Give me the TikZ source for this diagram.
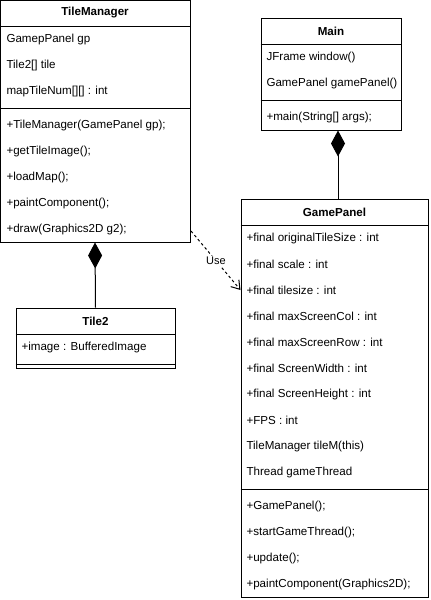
\documentclass[tikz,border=0pt]{standalone}
\usepackage{fontspec}
\setmainfont{Liberation Sans}
\usetikzlibrary{arrows.meta,fit}

\begin{document}
\begin{tikzpicture}[x=0.75pt,y=0.75pt,yscale=-1,xscale=1,line width=0.75pt,
  classbox/.style={draw,inner sep=0pt},
  member/.style={anchor=west,inner sep=0pt,font=\fontsize{8.7}{11}\selectfont},
  classname/.style={inner sep=0pt,font=\fontsize{8.7}{11}\selectfont\bfseries},
  composes/.style={{Diamond[length=19.5pt,width=10.5pt]}-},
  uses/.style={dash pattern=on 2pt off 2pt,-{Straight Barb[length=6pt,width=8pt,line width=0.75pt]}},
  uselabel/.style={fill=white,inner sep=1pt,font=\fontsize{8.25}{10}\selectfont}]
% uncomment if require:
\useasboundingbox (0,0) rectangle (431,600);

%Shape: Class TileManager
\node[classbox,fit={(0,0) (190,242)}] (tilemgr) {};
\draw (tilemgr.west |- 0,26) -- (tilemgr.east |- 0,26) ;
\draw (tilemgr.west |- 0,108) -- (tilemgr.east |- 0,108) ;

%Shape: Class Main
\node[classbox,fit={(261,18) (401,130)}] (main) {};
\draw (main.west |- 0,44) -- (main.east |- 0,44) ;
\draw (main.west |- 0,100) -- (main.east |- 0,100) ;

%Shape: Class GamePanel
\node[classbox,fit={(241,199) (428,597)}] (gamepanel) {};
\draw (gamepanel.west |- 0,225) -- (gamepanel.east |- 0,225) ;
\draw (gamepanel.west |- 0,489) -- (gamepanel.east |- 0,489) ;

%Shape: Class Tile2
\node[classbox,fit={(16,308) (175,368)}] (tile2) {};
\draw (tile2.west |- 0,334) -- (tile2.east |- 0,334) ;
\draw (tile2.west |- 0,364) -- (tile2.east |- 0,364) ;

% Text Node
\draw (95,13) node[classname] (tm-title) {TileManager};
\draw (6,39) node[member] (tm-gp) {GamepPanel gp};
\draw (6,65) node[member] (tm-tile) {Tile2[] tile};
\draw (6,91) node[member] (tm-map) {mapTileNum[][] : int};
\draw (6,125) node[member] (tm-ctor) {+TileManager(GamePanel gp);};
\draw (6,151) node[member] (tm-getimg) {+getTileImage();};
\draw (6,177) node[member] (tm-load) {+loadMap();};
\draw (6,203) node[member] (tm-paint) {+paintComponent();};
\draw (6,229) node[member] (tm-draw) {+draw(Graphics2D g2);};

% Text Node
\draw (331,31) node[classname] (main-title) {Main};
\draw (266,57) node[member] (main-window) {JFrame window()};
\draw (266,83) node[member] (main-panel) {GamePanel gamePanel()};
\draw (266,117) node[member] (main-main) {+main(String[] args);};

% Text Node
\draw (334.5,212) node[classname] (gp-title) {GamePanel};
\draw (246,238) node[member] (gp-orig) {+final originalTileSize : int};
\draw (246,264) node[member] (gp-scale) {+final scale : int};
\draw (246,290) node[member] (gp-tilesize) {+final tilesize : int};
\draw (246,316) node[member] (gp-col) {+final maxScreenCol : int};
\draw (246,342) node[member] (gp-row) {+final maxScreenRow : int};
\draw (246,368) node[member] (gp-width) {+final ScreenWidth : int};
\draw (246,394) node[member] (gp-height) {+final ScreenHeight : int};
\draw (246,420) node[member] (gp-fps) {+FPS : int};
\draw (246,446) node[member] (gp-tilem) {TileManager tileM(this)};
\draw (246,472) node[member] (gp-thread) {Thread gameThread};
\draw (246,506) node[member] (gp-ctor) {+GamePanel();};
\draw (246,532) node[member] (gp-start) {+startGameThread();};
\draw (246,558) node[member] (gp-update) {+update();};
\draw (246,584) node[member] (gp-paint) {+paintComponent(Graphics2D);};

% Text Node
\draw (95.5,321) node[classname] (t2-title) {Tile2};
\draw (21,347) node[member] (t2-image) {+image : BufferedImage};

%Straight Lines: composition
\draw[composes] (tilemgr.south) -- (tile2.north) ;
\coordinate (mainjoin) at (338,0);
\draw[composes] (main.south -| mainjoin) -- (gamepanel.north -| mainjoin) ;

%Straight Lines: dependency
\coordinate (usefrom) at (191,231);
\draw[uses] (usefrom) -- (gamepanel.west |- gp-tilesize) ;
\draw (216,261) node[uselabel] (uselbl) {Use};

\end{tikzpicture}
\end{document}
